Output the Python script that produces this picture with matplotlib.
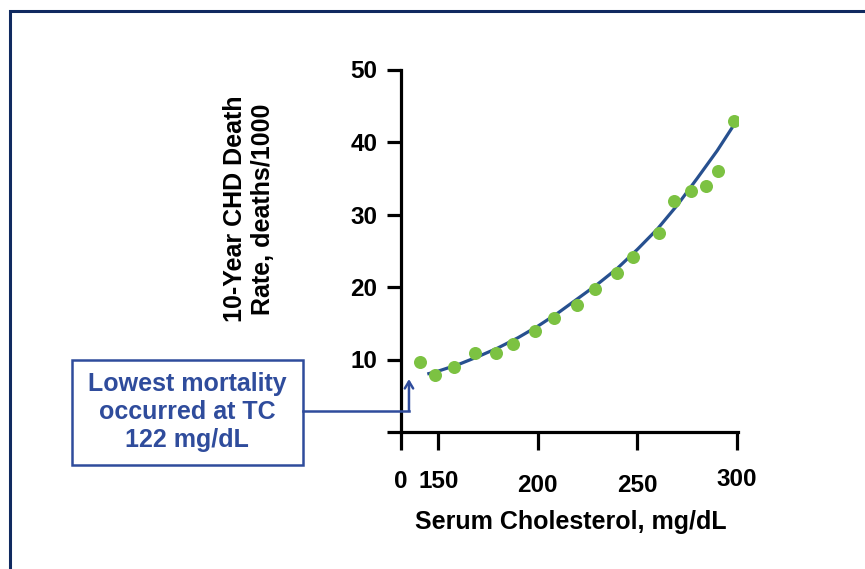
import matplotlib
matplotlib.use("Agg")
import matplotlib.pyplot as plt
from matplotlib.patches import Rectangle
from matplotlib.lines import Line2D
from matplotlib.transforms import ScaledTranslation

plt.rcParams['font.family'] = ['Liberation Sans', 'DejaVu Sans']
plt.rcParams['font.weight'] = 'bold'

# Scatter data (serum cholesterol vs 10-year CHD death rate)
chol = [141.0, 148.5, 158.0, 168.6, 179.1, 187.7, 198.7, 208.3, 219.8,
        228.9, 239.9, 247.5, 260.6, 268.1, 277.1, 284.2, 290.2, 298.2]
rate = [9.6, 7.8, 8.9, 10.9, 10.9, 12.1, 13.9, 15.7, 17.5,
        19.7, 21.9, 24.1, 27.4, 31.8, 33.2, 34.0, 36.0, 42.9]

# Trend curve
curve_x = [144.5, 150, 160, 170, 180, 190, 200, 210, 220, 230, 240, 250,
           260, 270, 280, 290, 298.5]
curve_y = [8.0, 8.4, 9.3, 10.4, 11.6, 13.0, 14.6, 16.4, 18.4, 20.4, 22.6,
           25.2, 28.0, 31.3, 35.0, 38.8, 42.4]

x_ticks = [131.3, 150, 200, 250, 300]
x_tick_labels = ["0", "150", "200", "250", "300"]
y_ticks = [0, 10, 20, 30, 40, 50]
y_tick_labels = ["", "10", "20", "30", "40", "50"]

W, H = 865, 569
fig = plt.figure(figsize=(W / 100, H / 100), dpi=100)
fig.patch.set_facecolor('white')

# outer frame
fig.patches.append(Rectangle((9.5 / W, -0.2), 2.0, 1.2 - 11.3 / H,
                             transform=fig.transFigure, fill=False,
                             edgecolor='#102a60', linewidth=2.2))

ax = fig.add_axes([401 / W, 1 - 432 / H, (738.1 - 401) / W, (432 - 69.5) / H])
ax.set_xlim(131.3, 300.5)
ax.set_ylim(0, 50)

navy = '#27508f'
green = '#7cc242'
box_blue = '#2f4c9c'

ax.plot(curve_x, curve_y, color=navy, lw=2.3, zorder=2, solid_capstyle='butt')
ax.scatter(chol, rate, s=88, color=green, zorder=3, linewidths=0)

for s in ['top', 'right']:
    ax.spines[s].set_visible(False)
for s in ['left', 'bottom']:
    ax.spines[s].set_linewidth(2.3)
    ax.spines[s].set_color('black')

ax.set_xticks(x_ticks)
ax.set_xticklabels(x_tick_labels)
ax.set_yticks(y_ticks)
ax.set_yticklabels(y_tick_labels)
ax.tick_params(axis='x', length=13, width=2.3, pad=14, labelsize=17.5)
ax.tick_params(axis='y', length=10, width=2.3, pad=7, labelsize=17.5)

# staggered x tick labels as in the original
offsets = [0, 0, 4, 5, -2]
for lab, dy in zip(ax.get_xticklabels(), offsets):
    lab.set_transform(lab.get_transform() + ScaledTranslation(0, -dy / 100, fig.dpi_scale_trans))

fig.text(249 / W, 1 - 209 / H, "10-Year CHD Death\nRate, deaths/1000",
         rotation=90, ha='center', va='center', multialignment='center',
         fontsize=18, fontweight='bold', linespacing=1.2)
fig.text(571 / W, 1 - 522 / H, "Serum Cholesterol, mg/dL",
         ha='center', va='center', fontsize=18, fontweight='bold')

# annotation box
fig.patches.append(Rectangle((71.7 / W, 1 - 465 / H), (303 - 71.7) / W, (465 - 360) / H,
                             transform=fig.transFigure, fill=False,
                             edgecolor=box_blue, linewidth=1.8))
fig.text(187 / W, 1 - 412 / H, "Lowest mortality\noccurred at TC\n122 mg/dL",
         ha='center', va='center', multialignment='center', color=box_blue,
         fontsize=18, fontweight='bold', linespacing=1.22)

# connector from box to axis
fig.lines.append(Line2D([303 / W, 409 / W], [1 - 411 / H, 1 - 411 / H],
                        transform=fig.transFigure, color=box_blue, lw=1.8))
ax.annotate('', xy=(135.3, 7.3), xytext=(135.3, 2.9),
            xycoords='data', textcoords='data', annotation_clip=False,
            arrowprops=dict(arrowstyle='->,head_length=0.5,head_width=0.3',
                            color=box_blue, lw=1.8, shrinkA=0, shrinkB=0))

fig.savefig('out.png', dpi=100)
